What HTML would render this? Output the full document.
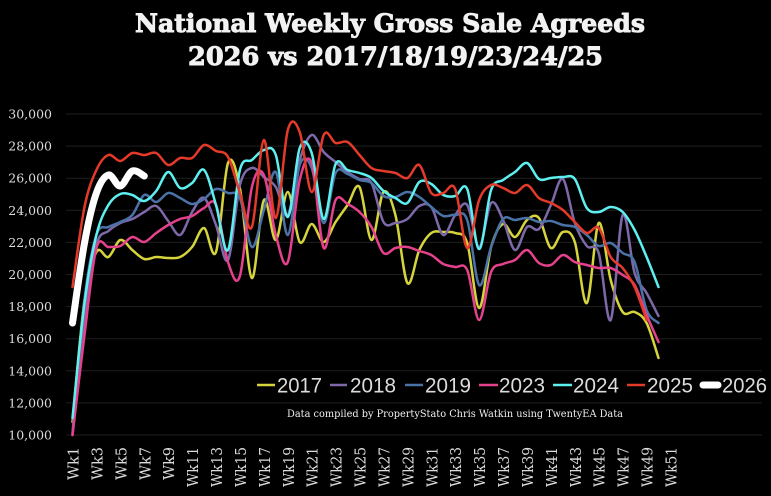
<!DOCTYPE html>
<html>
<head>
<meta charset="utf-8">
<style>
html,body{margin:0;padding:0;background:#000;}
svg{display:block;}
</style>
</head>
<body>
<svg id="chart" xmlns="http://www.w3.org/2000/svg" width="771" height="496" viewBox="0 0 771 496">
<rect x="0" y="0" width="771" height="496" fill="#000"/>
<g id="grid" stroke="#1f1f1f" stroke-width="1">
<line x1="66" y1="114" x2="762" y2="114"/>
<line x1="66" y1="146.1" x2="762" y2="146.1"/>
<line x1="66" y1="178.2" x2="762" y2="178.2"/>
<line x1="66" y1="210.3" x2="762" y2="210.3"/>
<line x1="66" y1="242.4" x2="762" y2="242.4"/>
<line x1="66" y1="274.5" x2="762" y2="274.5"/>
<line x1="66" y1="306.6" x2="762" y2="306.6"/>
<line x1="66" y1="338.7" x2="762" y2="338.7"/>
<line x1="66" y1="370.8" x2="762" y2="370.8"/>
<line x1="66" y1="402.9" x2="762" y2="402.9"/>
<line x1="66" y1="435" x2="762" y2="435"/>
</g>
<g font-family="'DejaVu Serif','Liberation Serif',serif" font-size="12.5" fill="#dcdcdc" text-anchor="end">
<text x="52" y="118.5">30,000</text>
<text x="52" y="150.6">28,000</text>
<text x="52" y="182.7">26,000</text>
<text x="52" y="214.8">24,000</text>
<text x="52" y="246.9">22,000</text>
<text x="52" y="279">20,000</text>
<text x="52" y="311.1">18,000</text>
<text x="52" y="343.2">16,000</text>
<text x="52" y="375.3">14,000</text>
<text x="52" y="407.4">12,000</text>
<text x="52" y="439.5">10,000</text>
</g>
<g id="xlabels" font-family="'DejaVu Serif','Liberation Serif',serif" font-size="14.5" fill="#dcdcdc" text-anchor="end" lengthAdjust="spacingAndGlyphs">
<text transform="translate(78.5,447) rotate(-90)" textLength="33" lengthAdjust="spacingAndGlyphs">Wk1</text>
<text transform="translate(102.4,447) rotate(-90)" textLength="33" lengthAdjust="spacingAndGlyphs">Wk3</text>
<text transform="translate(126.3,447) rotate(-90)" textLength="33" lengthAdjust="spacingAndGlyphs">Wk5</text>
<text transform="translate(150.3,447) rotate(-90)" textLength="33" lengthAdjust="spacingAndGlyphs">Wk7</text>
<text transform="translate(174.2,447) rotate(-90)" textLength="33" lengthAdjust="spacingAndGlyphs">Wk9</text>
<text transform="translate(198.1,447) rotate(-90)" textLength="40" lengthAdjust="spacingAndGlyphs">Wk11</text>
<text transform="translate(222,447) rotate(-90)" textLength="40" lengthAdjust="spacingAndGlyphs">Wk13</text>
<text transform="translate(245.9,447) rotate(-90)" textLength="40" lengthAdjust="spacingAndGlyphs">Wk15</text>
<text transform="translate(269.9,447) rotate(-90)" textLength="40" lengthAdjust="spacingAndGlyphs">Wk17</text>
<text transform="translate(293.8,447) rotate(-90)" textLength="40" lengthAdjust="spacingAndGlyphs">Wk19</text>
<text transform="translate(317.7,447) rotate(-90)" textLength="40" lengthAdjust="spacingAndGlyphs">Wk21</text>
<text transform="translate(341.6,447) rotate(-90)" textLength="40" lengthAdjust="spacingAndGlyphs">Wk23</text>
<text transform="translate(365.5,447) rotate(-90)" textLength="40" lengthAdjust="spacingAndGlyphs">Wk25</text>
<text transform="translate(389.5,447) rotate(-90)" textLength="40" lengthAdjust="spacingAndGlyphs">Wk27</text>
<text transform="translate(413.4,447) rotate(-90)" textLength="40" lengthAdjust="spacingAndGlyphs">Wk29</text>
<text transform="translate(437.3,447) rotate(-90)" textLength="40" lengthAdjust="spacingAndGlyphs">Wk31</text>
<text transform="translate(461.2,447) rotate(-90)" textLength="40" lengthAdjust="spacingAndGlyphs">Wk33</text>
<text transform="translate(485.1,447) rotate(-90)" textLength="40" lengthAdjust="spacingAndGlyphs">Wk35</text>
<text transform="translate(509.1,447) rotate(-90)" textLength="40" lengthAdjust="spacingAndGlyphs">Wk37</text>
<text transform="translate(533,447) rotate(-90)" textLength="40" lengthAdjust="spacingAndGlyphs">Wk39</text>
<text transform="translate(556.9,447) rotate(-90)" textLength="40" lengthAdjust="spacingAndGlyphs">Wk41</text>
<text transform="translate(580.8,447) rotate(-90)" textLength="40" lengthAdjust="spacingAndGlyphs">Wk43</text>
<text transform="translate(604.7,447) rotate(-90)" textLength="40" lengthAdjust="spacingAndGlyphs">Wk45</text>
<text transform="translate(628.7,447) rotate(-90)" textLength="40" lengthAdjust="spacingAndGlyphs">Wk47</text>
<text transform="translate(652.6,447) rotate(-90)" textLength="40" lengthAdjust="spacingAndGlyphs">Wk49</text>
<text transform="translate(676.5,447) rotate(-90)" textLength="40" lengthAdjust="spacingAndGlyphs">Wk51</text>
</g>
<g id="series" fill="none" stroke-linecap="round" stroke-linejoin="round"></g>
<g id="legend">
<line x1="257" y1="385" x2="275" y2="385" stroke="#d6d43c" stroke-width="2.5"/>
<line x1="330" y1="385" x2="347" y2="385" stroke="#7d68a8" stroke-width="2.5"/>
<line x1="405" y1="385" x2="423" y2="385" stroke="#4b72a6" stroke-width="2.5"/>
<line x1="479" y1="385" x2="498" y2="385" stroke="#e5418c" stroke-width="2.5"/>
<line x1="553" y1="385" x2="572" y2="385" stroke="#5ef0f0" stroke-width="2.5"/>
<line x1="627" y1="385" x2="645" y2="385" stroke="#e43a2a" stroke-width="2.5"/>
<line x1="703" y1="385" x2="718" y2="385" stroke="#ffffff" stroke-width="7" stroke-linecap="round"/>
<g font-family="'Liberation Sans',Arial,sans-serif" font-size="21" fill="#dcdcdc">
<text x="277" y="392.5" textLength="45" lengthAdjust="spacingAndGlyphs">2017</text>
<text x="350" y="392.5" textLength="46" lengthAdjust="spacingAndGlyphs">2018</text>
<text x="425" y="392.5" textLength="46" lengthAdjust="spacingAndGlyphs">2019</text>
<text x="499" y="392.5" textLength="46" lengthAdjust="spacingAndGlyphs">2023</text>
<text x="573" y="392.5" textLength="46" lengthAdjust="spacingAndGlyphs">2024</text>
<text x="647" y="392.5" textLength="46" lengthAdjust="spacingAndGlyphs">2025</text>
<text x="722" y="392.5" textLength="45" lengthAdjust="spacingAndGlyphs">2026</text>
</g>
</g>
<text x="287" y="417" font-family="'DejaVu Serif','Liberation Serif',serif" font-size="10" fill="#f0f0f0" textLength="336" lengthAdjust="spacingAndGlyphs">Data compiled by PropertyStato Chris Watkin using TwentyEA Data</text>
<g font-family="'DejaVu Serif','Liberation Serif',serif" font-weight="bold" fill="#f2f2f2" stroke="#f2f2f2" stroke-width="0.9" text-anchor="middle">
<text x="390" y="32" font-size="25" textLength="510" lengthAdjust="spacingAndGlyphs">National Weekly Gross Sale Agreeds</text>
<text x="395.5" y="65" font-size="25" textLength="415" lengthAdjust="spacingAndGlyphs">2026 vs 2017/18/19/23/24/25</text>
</g>
</svg>
<script>
(function(){
var NS="http://www.w3.org/2000/svg";
function X(w){return 72.5+(w-1)*11.96;}
var data=[
 ["#d6d43c",2.5,[422,300,252,257,240,250,259,257,258,257,247,228,252,163,188,278,200,240,192,242,224,242,222,205,187,240,192,215,283,250,233,232,233,243,308,247,224,237,220,218,248,232,242,303,223,280,312,312,323,358]],
 ["#7d68a8",2.5,[435,320,245,231,223,219,212,206,221,235,212,198,225,260,185,168,177,187,215,160,135,152,162,172,179,183,222,223,219,206,207,235,215,205,247,203,220,250,227,229,205,179,223,246,253,320,215,273,293,316]],
 ["#4b72a6",2.5,[433,300,235,227,222,215,195,202,193,198,204,199,189,193,198,247,210,172,235,165,168,223,173,174,180,183,196,197,192,197,207,216,215,220,285,247,219,220,218,222,221,225,227,235,246,243,253,262,310,323]],
 ["#e5418c",2.5,[435,335,248,247,246,237,242,233,225,219,216,208,205,262,276,187,175,235,262,180,163,248,200,204,212,227,253,248,247,251,255,264,267,270,320,272,264,260,250,263,265,255,262,265,268,268,275,285,315,342]],
 ["#5ef0f0",2.5,[418,303,235,205,194,195,201,191,172,188,183,170,205,250,170,160,150,155,217,148,153,219,164,170,173,178,191,198,203,182,184,195,196,189,249,190,180,172,163,179,178,177,179,208,212,207,212,230,257,287]],
 ["#e43a2a",2.5,[287,207,170,155,161,153,155,153,165,158,158,145,151,157,193,227,140,218,130,132,192,135,143,142,155,168,171,173,178,165,193,193,189,248,200,185,188,193,185,198,203,210,222,233,228,257,268,287,320]],
 ["#ffffff",7,[323,243,193,175,186,171,176]]
];
var g=document.getElementById("series");
data.forEach(function(s){
  var ys=s[2],pts=[];
  for(var i=0;i<ys.length;i++)pts.push([X(i+1),ys[i]]);
  var d="M"+pts[0][0].toFixed(1)+","+pts[0][1].toFixed(1);
  for(var i=0;i<pts.length-1;i++){
    var p0=pts[i-1]||pts[i],p1=pts[i],p2=pts[i+1],p3=pts[i+2]||pts[i+1];
    var c1x=p1[0]+(p2[0]-p0[0])/6,c1y=p1[1]+(p2[1]-p0[1])/6;
    var c2x=p2[0]-(p3[0]-p1[0])/6,c2y=p2[1]-(p3[1]-p1[1])/6;
    d+=" C"+c1x.toFixed(1)+","+c1y.toFixed(1)+" "+c2x.toFixed(1)+","+c2y.toFixed(1)+" "+p2[0].toFixed(1)+","+p2[1].toFixed(1);
  }
  var p=document.createElementNS(NS,"path");
  p.setAttribute("d",d);
  p.setAttribute("stroke",s[0]);
  p.setAttribute("stroke-width",s[1]);
  g.appendChild(p);
});
})();
</script>
</body>
</html>
